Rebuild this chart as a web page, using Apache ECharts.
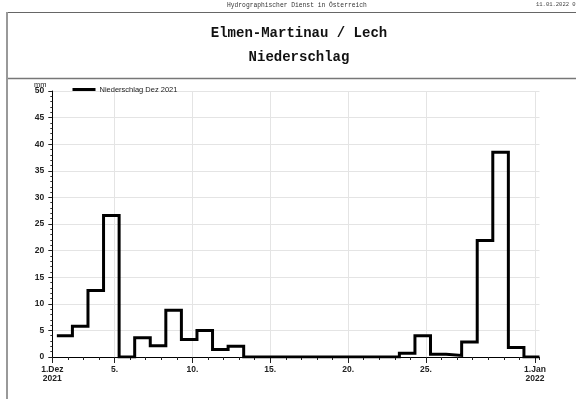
<!DOCTYPE html>
<html>
<head>
<meta charset="utf-8">
<script src="https://cdn.jsdelivr.net/npm/echarts@6/dist/echarts.min.js"></script>
<style>
  html, body { margin: 0; padding: 0; background: #ffffff; }
  #chart { width: 576px; height: 399px; }
</style>
</head>
<body>
<div id="chart"></div>
<script>
// Daily precipitation (mm), Elmen-Martinau / Lech, 1-31 Dec 2021
var dayValues = [4.0, 5.8, 12.5, 26.6, 0, 3.6, 2.1, 8.8, 3.3, 5.0, 1.4, 2.0,
                 0, 0, 0, 0, 0, 0, 0, 0, 0, 0,
                 0.7, 4.0, 0.5, 0.3, 2.8, 21.9, 38.5, 1.8, 0];
// Measuring day runs 07:00 to 07:00 (offset in days from 1 Dec 00:00)
var dayStartOffset = 7 / 24;

// Date axis ticks (days after 1 Dec) and their labels
var tickDays = [0, 4, 9, 14, 19, 24, 31];
var tickLabels = ['1.Dez\n2021', '5.', '10.', '15.', '20.', '25.', '1.Jan\n2022'];

var seriesName = 'Niederschlag Dez 2021';
var titleMain = 'Elmen-Martinau / Lech';
var titleSub = 'Niederschlag';
var headerText = 'Hydrographischer Dienst in Österreich';
var stampText = '11.01.2022 09.';

// Step points: each value holds from its day start until the next one
var points = dayValues.map(function (v, i) { return [dayStartOffset + i, v]; });
points.push([dayStartOffset + dayValues.length, dayValues[dayValues.length - 1]]);

var xMax = 31 + dayStartOffset;
var labelFont = 'Liberation Sans, Arial, sans-serif';
var monoFont = 'Liberation Mono, Courier New, monospace';

var chart = echarts.init(document.getElementById('chart'), null, { renderer: 'canvas' });

chart.setOption({
  animation: false,
  backgroundColor: '#ffffff',
  title: [
    { text: titleMain, left: 294, top: 21, textAlign: 'center',
      textStyle: { fontFamily: monoFont, fontWeight: 'bold', fontSize: 14, color: '#111' } },
    { text: titleSub, left: 294, top: 45, textAlign: 'center',
      textStyle: { fontFamily: monoFont, fontWeight: 'bold', fontSize: 14, color: '#111' } }
  ],
  graphic: [
    { type: 'text', left: 227, top: 2,
      style: { text: headerText, font: '6.3px ' + monoFont, fill: '#333' } },
    { type: 'text', left: 536, top: 2,
      style: { text: stampText, font: '5.5px ' + monoFont, fill: '#444' } },
    // frame around the report
    { type: 'line', shape: { x1: 6, y1: 12.5, x2: 576, y2: 12.5 }, style: { stroke: '#666', lineWidth: 1 } },
    { type: 'line', shape: { x1: 6, y1: 78.5, x2: 576, y2: 78.5 }, style: { stroke: '#777', lineWidth: 1.5 } },
    { type: 'line', shape: { x1: 7, y1: 12, x2: 7, y2: 399 }, style: { stroke: '#999', lineWidth: 2 } },
    { type: 'text', left: 34, top: 81,
      style: { text: 'mm', font: '7.5px ' + labelFont, fill: '#222' } }
  ],
  legend: {
    data: [{ name: seriesName, icon: 'rect' }],
    left: 72.5, top: 85.5, padding: 0,
    itemWidth: 23, itemHeight: 3, itemGap: 4,
    textStyle: { fontFamily: labelFont, fontSize: 7.5, color: '#222', padding: [0, 0, 0, -1] },
    itemStyle: { color: '#000' }
  },
  grid: { left: 52.3, right: 36.5, top: 91, bottom: 42 },
  xAxis: [
    {
      type: 'value', min: 0, max: xMax, interval: 1,
      axisLine: { show: true, lineStyle: { color: '#000', width: 1 } },
      axisTick: { show: true, length: 3, lineStyle: { color: '#222' } },
      axisLabel: { show: false },
      splitLine: { show: false }
    },
    {
      type: 'value', min: 0, max: xMax, position: 'bottom',
      axisLine: { show: false },
      axisTick: { show: true, length: 6, customValues: tickDays, lineStyle: { color: '#222' } },
      axisLabel: {
        show: true, customValues: tickDays, margin: 8,
        fontFamily: labelFont, fontWeight: 'bold', fontSize: 8.5, lineHeight: 9, color: '#222',
        formatter: function (val) {
          var idx = tickDays.indexOf(Math.round(val));
          return idx >= 0 ? tickLabels[idx] : '';
        }
      },
      splitLine: { show: true, lineStyle: { color: '#e4e4e4', width: 1 } }
    }
  ],
  yAxis: {
    type: 'value', min: 0, max: 50, interval: 5,
    axisLine: { show: true, lineStyle: { color: '#000', width: 1 } },
    axisTick: { show: true, length: 4, lineStyle: { color: '#222' } },
    minorTick: { show: true, splitNumber: 5, length: 2, lineStyle: { color: '#333' } },
    axisLabel: { margin: 8, fontFamily: labelFont, fontWeight: 'bold', fontSize: 8.5, color: '#222' },
    splitLine: { show: true, lineStyle: { color: '#e4e4e4', width: 1 } }
  },
  series: [
    {
      name: seriesName,
      type: 'line',
      step: 'end',
      data: points,
      symbol: 'none',
      lineStyle: { color: '#000', width: 3, join: 'miter' },
      itemStyle: { color: '#000' },
      z: 5
    }
  ]
});
</script>
</body>
</html>
